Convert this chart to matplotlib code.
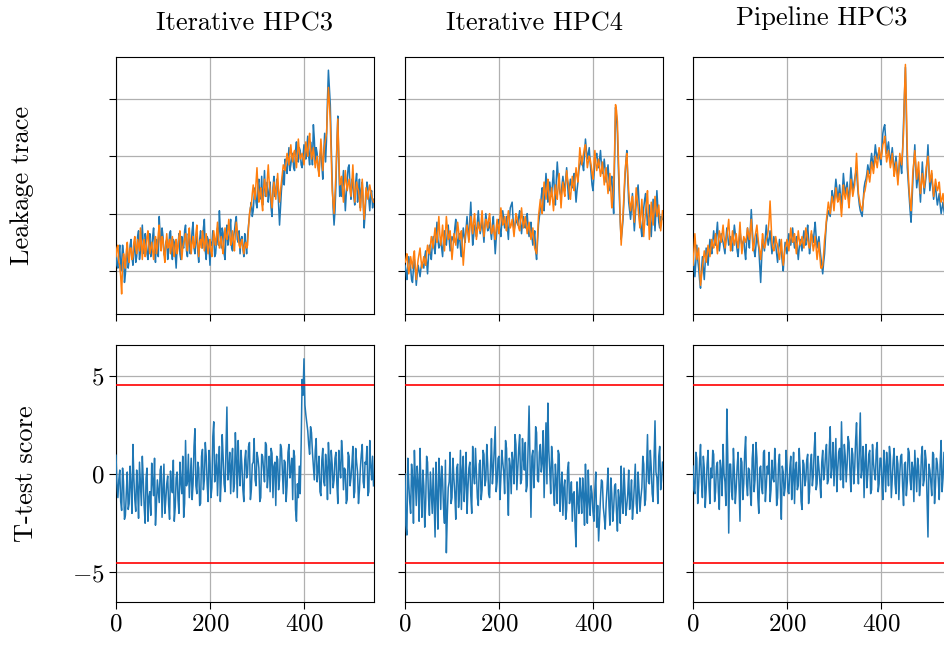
import numpy as np
import matplotlib
matplotlib.use("Agg")
import matplotlib.pyplot as plt

plt.rcParams.update({
    "font.family": "serif",
    "font.serif": ["cmr10"],
    "mathtext.fontset": "cm",
    "axes.formatter.use_mathtext": True,
    "axes.unicode_minus": True,
    "font.size": 19,
})

TITLES = ["Iterative HPC3", "Iterative HPC4", "Pipeline HPC3"]
ROW_LABELS = ["Leakage trace", "T-test score"]
STEP = 2  # sample spacing of the merged read-off values (even = x 0,4,8..., mid = x 2,6,10...)
XTICKS = [0, 200, 400]
TTEST_TICKS = [-5, 0, 5]
THRESHOLD = 4.5

# ---- leakage traces, values at x = 0, 4, 8, ... ----
TRACE_IT3_A = [0.35, 0.05, 0.45, 0.15, 0.30, -0.05, 0.40, 0.20, 0.55, 0.10,
               0.50, 0.25, 0.70, 0.35, 0.80, 0.30, 0.55, 0.20, 0.65, 0.40,
               0.75, 0.15, 0.50, 0.95, 0.40, 0.60, 0.25, 0.55, 0.35, 0.70,
               0.20, 0.50, 0.05, 0.45, 0.30, 0.60, 0.40, 0.80, 0.25, 0.55,
               0.45, 0.85, 0.30, 0.60, 0.15, 0.70, 0.40, 0.90, 0.20, 0.55,
               0.10, 0.45, 0.60, 0.30, 0.75, 1.05, 0.40, 0.65, 0.20, 0.80,
               0.55, 0.90, 0.35, 0.70, 0.95, 0.50, 0.30, 0.60, 0.25, 0.45,
               0.60, 0.95, 1.20, 1.05, 1.45, 1.10, 1.60, 1.30, 1.15, 1.75,
               1.40, 1.20, 1.55, 0.95, 1.65, 1.35, 1.50, 0.80, 1.40, 1.75,
               1.95, 1.70, 2.15, 1.85, 2.05, 1.75, 2.25, 1.90, 2.10, 1.80,
               2.20, 1.95, 2.35, 1.85, 2.10, 2.55, 1.90, 2.05, 1.70, 2.15,
               1.60, 2.40, 2.30, 3.50, 2.90, 1.60, 0.80, 1.50, 2.70, 1.30,
               1.30, 1.75, 1.05, 1.60, 1.85, 1.25, 1.50, 1.15, 1.70, 1.35,
               1.10, 1.55, 0.75, 1.30, 1.45, 1.05, 1.40, 1.25]
TRACE_IT3_A_MID = [0.10, 0.30, 0.00, 0.45, -0.20, 0.25, 0.05, 0.45, 0.25, 0.40,
                   0.15, 0.60, 0.20, 0.55, 0.45, 0.65, 0.30, 0.50, 0.25, 0.60,
                   0.35, 0.55, 0.25, 0.60, 0.75, 0.30, 0.50, 0.20, 0.65, 0.40,
                   0.55, 0.30, 0.40, 0.65, 0.20, 0.45, 0.70, 0.35, 0.65, 0.30,
                   0.70, 0.40, 0.55, 0.35, 0.55, 0.45, 0.75, 0.35, 0.60, 0.40,
                   0.50, 0.70, 0.25, 0.55, 0.45, 0.70, 0.75, 0.30, 0.60, 0.45,
                   0.75, 0.40, 0.60, 0.85, 0.55, 0.70, 0.55, 0.40, 0.65, 0.30,
                   0.80, 1.10, 0.95, 1.30, 1.20, 1.50, 1.25, 1.65, 1.40, 1.30,
                   1.55, 1.35, 1.10, 1.45, 1.30, 1.60, 1.15, 1.10, 1.60, 1.50,
                   1.80, 1.90, 1.75, 2.00, 1.80, 2.10, 1.95, 2.15, 1.85, 2.00,
                   2.05, 2.15, 2.00, 2.25, 1.85, 2.30, 2.15, 1.80, 2.00, 1.85,
                   2.05, 1.90, 3.00, 3.20, 2.20, 1.10, 1.05, 2.20, 1.90, 1.60,
                   1.50, 1.40, 1.35, 1.80, 1.45, 1.60, 1.30, 1.55, 1.20, 1.60,
                   1.40, 1.20, 1.00, 1.55, 1.25, 1.35, 1.10]
TRACE_IT3_B = [0.25, 0.45, 0.10, -0.40, 0.30, 0.05, 0.50, 0.15, 0.40, 0.25,
               0.60, 0.30, 0.45, 0.75, 0.20, 0.55, 0.35, 0.70, 0.30, 0.50,
               0.20, 0.60, 0.40, 0.80, 0.35, 0.55, 0.15, 0.65, 0.45, 0.30,
               0.60, 0.25, 0.55, 0.40, 0.70, 0.20, 0.50, 0.65, 0.35, 0.75,
               0.30, 0.60, 0.45, 0.80, 0.25, 0.55, 0.70, 0.35, 0.65, 0.30,
               0.55, 0.25, 0.70, 0.45, 0.85, 0.40, 0.60, 0.30, 0.75, 0.55,
               0.90, 0.45, 0.70, 0.35, 0.85, 0.60, 0.40, 0.55, 0.30, 0.50,
               0.45, 1.00, 1.15, 1.50, 1.25, 1.80, 1.20, 1.45, 1.05, 1.60,
               1.30, 1.85, 1.40, 1.10, 1.55, 1.25, 1.70, 1.20, 1.55, 1.85,
               1.75, 2.05, 1.85, 2.20, 1.90, 2.10, 1.80, 2.30, 1.95, 2.05,
               1.85, 2.25, 2.00, 2.40, 1.95, 2.15, 1.80, 2.00, 1.65, 2.30,
               1.75, 2.20, 2.40, 3.20, 2.60, 1.40, 1.00, 1.70, 2.65, 1.50,
               1.65, 1.20, 1.75, 1.40, 1.60, 1.30, 1.85, 1.20, 1.55, 1.40,
               1.05, 1.60, 0.90, 1.45, 1.25, 1.50, 1.30, 1.20]
TRACE_IT3_B_MID = [0.40, 0.15, -0.10, 0.10, 0.20, 0.35, 0.25, 0.40, 0.20, 0.50,
                   0.40, 0.55, 0.35, 0.50, 0.45, 0.25, 0.60, 0.45, 0.40, 0.35,
                   0.45, 0.30, 0.65, 0.50, 0.60, 0.30, 0.45, 0.40, 0.55, 0.45,
                   0.35, 0.45, 0.30, 0.60, 0.45, 0.40, 0.55, 0.45, 0.60, 0.50,
                   0.50, 0.40, 0.65, 0.45, 0.50, 0.40, 0.55, 0.50, 0.45, 0.45,
                   0.35, 0.50, 0.55, 0.65, 0.55, 0.50, 0.40, 0.55, 0.60, 0.70,
                   0.65, 0.55, 0.50, 0.65, 0.70, 0.45, 0.50, 0.40, 0.45, 0.40,
                   0.75, 1.10, 1.35, 1.35, 1.55, 1.45, 1.35, 1.20, 1.40, 1.45,
                   1.60, 1.55, 1.25, 1.35, 1.40, 1.50, 1.40, 1.40, 1.70, 1.80,
                   1.90, 1.95, 2.05, 2.00, 2.05, 1.95, 2.05, 2.10, 2.00, 1.95,
                   2.05, 2.10, 2.25, 2.15, 2.05, 1.95, 1.90, 1.80, 2.00, 2.05,
                   2.00, 2.30, 2.80, 2.95, 2.00, 1.20, 1.35, 2.20, 2.05, 1.55,
                   1.40, 1.50, 1.55, 1.50, 1.45, 1.55, 1.50, 1.40, 1.45, 1.25,
                   1.35, 1.20, 1.15, 1.35, 1.40, 1.40, 1.25]

TRACE_IT4_A = [0.10, -0.15, 0.25, 0.05, -0.20, 0.20, -0.25, 0.10, -0.10, 0.15,
               0.05, 0.35, -0.05, 0.45, 0.20, 0.60, 0.30, 0.85, 0.40, 0.55,
               0.25, 0.70, 0.45, 0.80, 0.35, 0.60, 0.50, 0.90, 0.40, 0.65,
               0.25, 0.75, 0.50, 0.95, 0.55, 1.20, 0.45, 0.80, 0.60, 1.05,
               0.65, 0.90, 0.50, 1.00, 0.70, 0.85, 0.55, 0.95, 0.30, 0.75,
               0.90, 0.60, 1.05, 0.75, 0.95, 0.55, 1.10, 1.20, 0.70, 0.90,
               0.80, 1.05, 0.65, 0.95, 0.75, 1.00, 0.60, 0.85, 0.45, 0.70,
               0.20, 0.80, 1.10, 1.45, 1.05, 1.70, 1.20, 1.55, 1.30, 1.75,
               1.15, 1.90, 1.45, 1.30, 1.65, 1.40, 1.80, 1.25, 1.60, 1.45,
               1.70, 1.20, 1.55, 1.85, 2.00, 1.75, 2.30, 1.95, 2.15, 1.70,
               1.40, 1.90, 2.05, 1.80, 2.10, 1.70, 1.95, 1.55, 1.85, 1.40,
               1.65, 1.00, 2.85, 2.40, 1.30, 0.55, 0.90, 1.60, 2.10, 1.20,
               0.90, 1.35, 0.70, 1.20, 1.50, 0.95, 0.60, 1.10, 1.35, 0.80,
               1.15, 0.60, 1.25, 0.70, 1.40, 0.85, 0.95, 0.90]
TRACE_IT4_A_MID = [0.00, 0.10, 0.15, -0.15, 0.05, 0.00, -0.05, 0.00, 0.05, 0.10,
                   0.25, 0.15, 0.25, 0.30, 0.45, 0.40, 0.60, 0.55, 0.45, 0.40,
                   0.55, 0.50, 0.65, 0.55, 0.50, 0.55, 0.75, 0.60, 0.55, 0.40,
                   0.55, 0.60, 0.75, 0.70, 0.90, 0.80, 0.60, 0.75, 0.85, 0.80,
                   0.75, 0.70, 0.80, 0.85, 0.75, 0.70, 0.80, 0.60, 0.55, 0.85,
                   0.70, 0.85, 0.90, 0.80, 0.75, 0.90, 1.15, 0.90, 0.80, 0.85,
                   0.95, 0.80, 0.85, 0.80, 0.90, 0.75, 0.70, 0.60, 0.55, 0.35,
                   0.50, 0.95, 1.30, 1.20, 1.40, 1.45, 1.35, 1.40, 1.55, 1.40,
                   1.60, 1.65, 1.35, 1.50, 1.50, 1.60, 1.50, 1.45, 1.50, 1.55,
                   1.45, 1.40, 1.75, 1.90, 1.85, 2.05, 2.10, 2.05, 1.90, 1.50,
                   1.65, 2.00, 1.90, 1.95, 1.85, 1.80, 1.75, 1.70, 1.60, 1.55,
                   1.30, 1.90, 2.70, 1.80, 0.85, 0.70, 1.25, 1.90, 1.60, 1.05,
                   1.10, 1.00, 0.95, 1.35, 1.20, 0.75, 0.90, 1.25, 1.05, 0.95,
                   0.85, 0.95, 1.00, 1.05, 1.10, 0.75, 0.95]
TRACE_IT4_B = [0.15, 0.30, -0.05, 0.25, 0.05, 0.35, -0.15, 0.20, 0.40, 0.05,
               0.25, 0.10, 0.45, 0.30, 0.60, 0.40, 0.75, 0.50, 0.95, 0.45,
               0.80, 0.35, 0.95, 0.55, 0.70, 0.20, 0.65, 0.45, 0.85, 0.55,
               0.70, 0.10, 0.60, 0.80, 0.50, 0.95, 0.65, 1.00, 0.55, 0.85,
               0.70, 1.05, 0.60, 0.90, 0.75, 1.00, 0.65, 0.80, 0.55, 0.90,
               0.65, 1.10, 0.80, 0.95, 0.70, 1.05, 0.75, 0.90, 0.60, 1.00,
               0.85, 0.70, 1.10, 0.75, 0.95, 0.65, 0.85, 0.55, 0.75, 0.40,
               0.30, 0.95, 1.25, 1.00, 1.55, 1.25, 1.60, 1.15, 1.45, 1.05,
               1.50, 1.25, 1.70, 1.10, 1.55, 1.30, 1.75, 1.50, 1.25, 1.65,
               1.40, 1.80, 1.55, 2.15, 1.85, 2.05, 2.20, 1.80, 2.00, 1.85,
               1.60, 2.10, 1.75, 1.95, 1.65, 1.90, 1.50, 1.80, 1.35, 1.70,
               1.10, 1.45, 2.90, 2.60, 1.50, 0.45, 1.00, 1.70, 2.05, 1.40,
               1.05, 1.30, 0.85, 1.45, 1.10, 0.75, 1.25, 0.60, 1.05, 1.40,
               0.55, 1.20, 0.80, 1.30, 0.95, 1.15, 0.70, 1.05]
TRACE_IT4_B_MID = [0.20, 0.10, 0.05, 0.15, 0.25, 0.05, 0.05, 0.30, 0.20, 0.15,
                   0.15, 0.30, 0.35, 0.45, 0.50, 0.60, 0.60, 0.70, 0.65, 0.60,
                   0.55, 0.65, 0.75, 0.60, 0.45, 0.40, 0.55, 0.65, 0.70, 0.60,
                   0.40, 0.35, 0.70, 0.65, 0.75, 0.80, 0.85, 0.75, 0.70, 0.75,
                   0.85, 0.80, 0.75, 0.85, 0.90, 0.80, 0.70, 0.65, 0.75, 0.75,
                   0.90, 0.95, 0.85, 0.80, 0.90, 0.90, 0.80, 0.75, 0.80, 0.95,
                   0.75, 0.90, 0.90, 0.85, 0.80, 0.75, 0.70, 0.65, 0.55, 0.35,
                   0.60, 1.10, 1.10, 1.30, 1.40, 1.45, 1.35, 1.30, 1.25, 1.30,
                   1.35, 1.50, 1.40, 1.35, 1.40, 1.55, 1.60, 1.35, 1.45, 1.50,
                   1.60, 1.65, 1.85, 2.00, 1.95, 2.15, 2.00, 1.90, 1.95, 1.70,
                   1.85, 1.90, 1.85, 1.80, 1.75, 1.70, 1.65, 1.55, 1.50, 1.40,
                   1.25, 2.10, 2.80, 2.00, 0.90, 0.75, 1.35, 1.90, 1.70, 1.20,
                   1.20, 1.05, 1.15, 1.25, 0.90, 1.00, 0.90, 0.85, 1.20, 0.95,
                   0.85, 1.00, 1.05, 1.10, 1.05, 0.90, 0.85]

TRACE_PL3_A = [0.30, -0.10, 0.45, 0.05, -0.30, 0.25, -0.15, 0.40, 0.10, 0.55,
               0.30, 0.70, 0.45, 0.85, 0.35, 0.65, 0.50, 0.30, 0.75, 0.45,
               0.60, 0.35, 0.80, 0.50, 0.25, 0.70, 0.45, 0.55, 0.20, 0.75,
               0.40, 1.07, 0.50, 0.25, 0.65, 0.40, -0.20, 0.55, 0.35, 0.80,
               0.45, 0.70, 0.30, 0.60, 0.45, 0.15, 0.55, 0.35, 0.00, 0.50,
               0.30, 0.65, 0.45, 0.75, 0.40, 0.60, 0.20, 0.55, 0.35, 0.70,
               0.45, 0.80, 0.30, 0.65, 0.50, 0.85, 0.40, 0.60, 0.25, -0.05,
               0.30, 0.85, 1.05, 0.95, 1.40, 1.15, 1.60, 1.25, 1.50, 1.10,
               1.70, 1.35, 1.55, 1.20, 1.80, 1.40, 1.60, 1.75, 1.30, 1.05,
               0.95, 1.45, 1.60, 1.85, 1.70, 2.05, 1.80, 2.20, 1.95, 2.10,
               1.85, 2.40, 2.55, 2.05, 2.25, 1.90, 2.15, 1.75, 2.00, 1.60,
               1.95, 1.70, 2.60, 3.55, 1.80, 1.30, 0.85, 1.60, 2.20, 1.45,
               1.75, 1.20, 1.90, 1.35, 1.65, 2.20, 1.40, 1.70, 1.25, 1.50,
               1.15, 1.35, 1.00, 1.20, 0.95, 1.05, 0.90, 0.80]
TRACE_PL3_A_MID = [0.10, 0.15, 0.20, -0.15, 0.00, 0.05, 0.15, 0.25, 0.35, 0.40,
                   0.50, 0.55, 0.65, 0.55, 0.50, 0.55, 0.40, 0.55, 0.60, 0.50,
                   0.45, 0.60, 0.65, 0.35, 0.50, 0.55, 0.50, 0.35, 0.50, 0.55,
                   0.75, 0.75, 0.35, 0.45, 0.50, 0.10, 0.20, 0.45, 0.60, 0.60,
                   0.55, 0.50, 0.45, 0.50, 0.30, 0.35, 0.45, 0.15, 0.25, 0.40,
                   0.50, 0.55, 0.60, 0.55, 0.50, 0.40, 0.40, 0.45, 0.55, 0.55,
                   0.65, 0.55, 0.45, 0.60, 0.70, 0.60, 0.50, 0.40, 0.10, 0.15,
                   0.60, 0.95, 1.00, 1.20, 1.30, 1.40, 1.45, 1.35, 1.30, 1.40,
                   1.50, 1.45, 1.35, 1.50, 1.60, 1.50, 1.70, 1.50, 1.15, 1.00,
                   1.20, 1.55, 1.70, 1.75, 1.90, 1.90, 2.00, 2.05, 2.05, 1.95,
                   2.15, 2.50, 2.30, 2.15, 2.05, 2.00, 1.95, 1.85, 1.80, 1.75,
                   1.85, 2.10, 3.10, 2.70, 1.55, 1.05, 1.20, 1.90, 1.80, 1.60,
                   1.45, 1.55, 1.60, 1.50, 1.90, 1.80, 1.55, 1.45, 1.40, 1.30,
                   1.25, 1.15, 1.10, 1.05, 1.00, 0.95, 0.85]
TRACE_PL3_B = [0.10, 0.65, 0.20, 0.40, -0.25, 0.05, 0.35, 0.15, 0.45, 0.25,
               0.55, 0.40, 0.65, 0.30, 0.70, 0.50, 0.80, 0.40, 0.60, 0.90,
               0.35, 0.70, 0.45, 0.65, 0.40, 0.85, 0.30, 0.60, 0.50, 0.75,
               0.55, 0.90, 0.35, 0.60, 0.80, 0.45, 0.20, 0.65, 0.40, 0.55,
               0.70, 1.22, 0.50, 0.35, 0.60, 0.45, 0.20, 0.55, 0.10, 0.40,
               0.55, 0.35, 0.75, 0.50, 0.65, 0.30, 0.70, 0.45, 0.60, 0.40,
               0.75, 0.55, 0.40, 0.70, 0.35, 0.60, 0.20, 0.50, 0.05, 0.10,
               0.55, 0.90, 1.20, 1.00, 1.30, 1.05, 1.45, 1.20, 1.35, 0.95,
               1.50, 1.25, 1.45, 1.10, 1.60, 1.30, 1.50, 2.05, 1.35, 1.15,
               1.05, 1.35, 1.50, 1.75, 1.55, 1.90, 1.70, 2.00, 1.80, 2.15,
               1.95, 2.20, 2.35, 1.90, 2.10, 1.80, 2.05, 1.65, 1.90, 1.50,
               2.05, 1.85, 2.40, 3.60, 2.10, 1.40, 1.05, 1.75, 2.10, 1.60,
               1.90, 1.35, 1.70, 1.45, 1.80, 2.00, 1.55, 1.75, 1.30, 1.60,
               1.40, 1.55, 1.20, 1.35, 1.05, 0.85, 1.00, 0.75]
TRACE_PL3_B_MID = [0.35, 0.40, 0.30, 0.05, -0.10, 0.20, 0.25, 0.30, 0.35, 0.40,
                   0.45, 0.50, 0.45, 0.50, 0.60, 0.65, 0.60, 0.50, 0.75, 0.60,
                   0.50, 0.55, 0.55, 0.50, 0.60, 0.55, 0.45, 0.55, 0.60, 0.65,
                   0.70, 0.60, 0.45, 0.70, 0.60, 0.35, 0.40, 0.50, 0.45, 0.60,
                   0.90, 0.85, 0.40, 0.45, 0.50, 0.30, 0.35, 0.30, 0.25, 0.45,
                   0.45, 0.55, 0.60, 0.55, 0.45, 0.50, 0.55, 0.50, 0.50, 0.55,
                   0.65, 0.45, 0.55, 0.50, 0.45, 0.40, 0.35, 0.25, 0.05, 0.30,
                   0.70, 1.05, 1.10, 1.15, 1.20, 1.25, 1.30, 1.25, 1.15, 1.20,
                   1.35, 1.35, 1.25, 1.35, 1.45, 1.40, 1.75, 1.70, 1.25, 1.10,
                   1.20, 1.40, 1.60, 1.65, 1.70, 1.80, 1.85, 1.90, 1.95, 2.05,
                   2.05, 2.25, 2.10, 2.00, 1.95, 1.90, 1.85, 1.75, 1.70, 1.75,
                   1.95, 2.10, 3.10, 2.90, 1.70, 1.20, 1.40, 1.90, 1.85, 1.75,
                   1.60, 1.50, 1.55, 1.60, 1.90, 1.75, 1.65, 1.50, 1.45, 1.50,
                   1.45, 1.35, 1.25, 1.20, 0.95, 0.90, 0.85]

# ---- t-test scores ----
TTEST_IT3 = [0.95, -1.20, 0.20, -1.85, -0.40, -2.10, 0.10, -1.50, -0.60, 1.50,
             -1.30, 0.20, -2.25, -0.50, 0.90, -1.70, -0.20, -2.40, -0.90, 0.55,
             -1.10, -2.60, -0.30, -1.45, 0.40, -0.80, -2.00, -0.50, -1.55, 0.15,
             -0.95, -2.40, -0.20, -1.30, 0.60, -1.00, -2.20, 1.70, -0.40, -1.20,
             0.80, -0.50, 2.30, -1.00, 0.30, -1.50, 1.25, -0.30, 0.90, -1.40,
             0.50, -0.70, 2.65, 0.10, -1.10, 1.40, -0.20, 0.85, -0.90, 3.40,
             0.20, -1.00, 1.30, -0.50, 0.70, 1.70, -0.60, 0.40, -1.40, 1.20,
             0.05, 1.60, -0.80, 0.60, -0.30, 1.10, 0.30, -1.20, 0.90, -0.40,
             1.45, 0.00, -0.90, 1.05, 0.40, -1.60, 0.75, -0.30, 1.30, -1.00,
             0.60, -0.60, 1.50, 0.20, -1.30, 0.90, -2.40, -1.20, -1.00, 4.80,
             5.85, 3.00, 2.20, 1.00, 2.10, 0.40, 1.20, -0.40, 0.90, -1.10,
             1.30, -0.60, 0.30, 1.60, -1.00, 0.50, -0.30, 1.10, -1.50, 0.40,
             1.70, -0.80, 0.20, -1.30, 0.90, -0.20, 1.40, -0.90, 0.60, -1.50,
             0.30, 1.50, -0.70, 0.50, -1.10, 1.70, -0.30, -0.60]
TTEST_IT3_MID = [-0.50, -0.30, -1.40, 0.30, -2.30, -0.90, -1.80, 0.40, -2.00, -0.20,
                 -1.90, -0.70, 0.60, -1.60, -0.30, -2.50, 0.30, -1.20, -2.10, -0.40,
                 0.80, -1.60, -0.90, 0.20, -2.20, 0.50, -1.30, -0.10, -2.30, -0.60,
                 0.70, -1.70, 0.10, -2.00, -0.40, 0.90, -1.50, -0.60, 1.00, -0.20,
                 -1.30, 1.40, -0.60, 0.60, -1.60, 0.90, -0.80, 1.60, -0.50, 1.20,
                 -1.20, 1.90, -0.40, 1.00, 0.30, -1.40, 2.00, -0.50, 1.30, -0.30,
                 1.10, 0.50, -0.90, 2.10, -1.20, 0.20, 1.20, -0.80, 0.70, -0.20,
                 1.40, -1.30, 0.50, 1.80, -0.60, 0.80, -1.40, 1.00, 0.20, 1.60,
                 -0.70, 0.90, 1.30, -1.20, 0.60, 0.90, -0.80, 1.50, 0.10, 0.70,
                 -1.40, 1.10, -0.20, 0.80, 1.20, -1.80, -0.50, 0.40, 1.50, 4.00,
                 3.50, 2.60, 1.50, 2.40, 1.10, -0.30, 1.80, 0.20, -0.90, 0.70,
                 -0.40, 1.00, -1.30, 0.60, 1.20, -0.70, 0.80, -0.50, 1.20, -0.20,
                 0.90, 0.30, -1.50, 1.10, -0.60, 0.50, -1.20, 1.30, 0.10, -0.80,
                 1.00, -0.40, 0.60, 1.40, -0.90, 0.40, 0.90]
TTEST_IT4 = [0.00, -3.10, -0.50, -2.00, -0.20, 1.20, -1.60, -0.40, 1.30, -2.20,
             -0.60, -1.50, 0.60, -2.10, -0.90, 0.30, -3.20, -1.00, 0.80, -1.80,
             -0.30, -2.50, -4.00, -0.70, 1.10, -1.20, -0.20, -2.30, 0.50, -0.90,
             -1.80, 0.90, -0.40, -2.00, 0.30, -1.10, 1.40, -0.50, 0.10, -1.60,
             0.70, -0.80, 1.00, -0.30, 0.50, -1.20, 1.80, 0.20, 2.40, -0.40,
             0.90, -0.20, 0.60, -1.00, 1.30, -2.10, 0.40, 1.10, -0.50, 1.50,
             0.20, 2.00, -0.30, 0.80, 1.60, -0.60, 3.45, -2.20, 1.20, 0.30,
             2.10, -0.40, 1.50, 0.60, -1.20, 2.60, 3.60, 0.20, 1.40, -0.80,
             0.50, -1.50, 1.00, -0.70, -2.10, -0.30, -1.80, 0.60, -1.20, -2.40,
             -0.90, -3.70, -1.30, -0.20, -2.00, -1.10, 0.50, -2.50, -1.40, -0.60,
             -1.90, -0.80, -2.70, -3.40, -1.20, -0.40, -2.20, -1.50, 0.30, -2.60,
             -1.00, -1.80, -0.50, -2.90, -1.30, 0.40, -2.00, -0.90, -1.60, 0.20,
             -1.20, -2.30, -0.60, -1.50, 0.10, -1.90, -0.70, 0.50, -1.30, 2.00,
             -0.50, 0.30, -1.40, 2.70, -0.20, 0.90, -0.80, 0.60]
TTEST_IT4_MID = [-2.60, 0.80, -1.40, 0.50, -2.50, -0.30, 0.40, -2.40, -0.80, 0.20,
                 -2.70, 0.90, -1.20, 0.10, -2.00, -1.50, 0.60, -2.80, -0.20, 0.40,
                 -1.70, 0.70, -2.10, -0.40, -1.50, 0.80, -1.00, 0.30, -1.70, 1.20,
                 0.20, -1.40, 1.10, -0.70, 0.60, -2.00, 0.00, 1.30, -1.20, 0.50,
                 -1.30, 1.20, -0.60, 1.50, -1.00, 0.40, -0.50, 1.30, -0.90, 0.80,
                 -1.30, 1.20, 0.10, 1.70, -0.60, 0.80, -1.00, 0.60, 2.00, -0.80,
                 1.30, -0.50, 1.80, 0.20, -0.90, 1.40, 0.60, 0.90, -0.70, 2.40,
                 -0.30, 1.10, 0.10, 2.20, 0.70, -0.50, 1.20, -1.00, 0.60, -1.60,
                 -0.40, 1.20, -1.90, 0.10, -0.70, -2.30, 0.20, -1.50, -0.40, -1.00,
                 -2.70, -0.40, -2.00, -1.00, -0.20, -2.60, -1.30, 0.20, -2.10, -1.00,
                 -2.40, 0.10, -1.60, -2.30, -0.30, -1.70, -2.80, -0.70, -1.60, -0.20,
                 -2.40, -0.60, -1.90, -0.80, -2.50, -1.40, 0.30, -2.10, -1.00, -1.80,
                 -0.30, -1.60, 0.50, -2.00, -0.80, -1.20, 0.90, -1.60, 0.20, -0.40,
                 1.20, -1.00, 0.80, 0.10, -1.50, 1.40, -0.30]
TTEST_PL3 = [0.40, -1.00, 0.80, -0.60, 1.50, -1.20, 0.30, -0.80, 1.20, -1.50,
             -0.20, 1.00, -0.90, 0.60, -1.80, 0.20, 1.50, -0.40, 3.30, -3.00,
             0.50, -1.30, 0.10, -0.70, 1.10, -2.40, 0.60, -0.50, 1.90, -1.10,
             0.20, -1.60, 1.50, -0.30, 0.80, -2.00, 0.40, -1.00, 1.20, -0.60,
             0.00, -1.40, 0.70, -0.40, 0.30, -1.20, 1.00, -2.30, 0.10, -0.70,
             0.40, -1.00, 0.90, -0.20, -1.50, 0.60, -0.60, 0.20, -1.80, 0.50,
             -0.30, 1.00, -0.90, 1.00, -0.10, 2.10, -0.50, 0.30, -1.20, 1.20,
             0.10, 1.50, -0.30, 2.40, 0.40, -0.60, 1.80, 0.20, 1.30, 2.65,
             -0.70, 0.90, 0.50, 1.60, -0.90, 1.00, 0.20, 2.60, -0.50, 3.10,
             0.30, -1.20, 1.50, 0.00, 1.20, -0.80, 0.60, -0.30, 1.60, -0.50,
             0.80, -1.30, 0.40, 1.10, -0.60, 0.90, -0.20, 1.30, -1.00, 0.50,
             0.00, 1.00, -1.60, 0.60, -0.40, 1.10, -0.80, 0.30, 1.20, -0.90,
             0.40, -0.50, 1.40, -0.30, 0.70, -3.20, 0.20, -1.10, 1.00, -0.60,
             0.50, -1.30, 1.70, -0.20, 0.40, -1.00, 0.80, 0.10]
TTEST_PL3_MID = [-0.80, 1.10, -1.50, 0.60, -0.40, 0.90, -1.70, 0.50, -0.60, 0.30,
                 1.20, -1.40, 0.40, -0.90, 0.70, -1.10, 0.00, -1.60, 0.90, 0.50,
                 -0.90, 1.30, -1.50, 0.40, -0.60, 0.80, -1.30, 1.10, -0.50, 0.30,
                 -1.00, 0.80, -0.90, 1.60, -1.20, 0.30, -0.70, 1.10, -1.40, 0.40,
                 1.10, -0.80, -0.20, 1.30, -1.60, 0.50, -0.90, 0.40, -1.10, 1.20,
                 -0.90, 0.30, -1.30, 1.10, 0.20, -0.80, 1.30, -1.40, 0.70, -0.60,
                 0.70, -1.50, 0.50, -0.60, 1.30, -0.80, 0.90, -0.40, 0.60, -0.30,
                 1.00, -0.50, 1.30, -0.20, 1.60, 0.60, -0.90, 1.10, -0.30, 0.50,
                 1.50, -0.40, 1.90, 0.10, 1.30, -0.50, 1.70, 0.40, 1.20, -0.20,
                 1.40, 0.60, -0.70, 1.00, -1.00, 1.50, 0.00, 1.20, -0.90, 0.80,
                 -0.40, 1.20, -0.90, 0.30, 1.40, -1.20, 0.70, -0.50, 0.90, -1.30,
                 0.90, -0.60, 0.50, -1.10, 1.30, -0.30, 0.60, -1.40, 0.20, 0.80,
                 -1.10, 0.90, -0.60, 1.20, -1.20, 0.50, -0.40, 1.10, -1.50, 0.80,
                 -0.30, 0.60, -0.90, 1.10, -0.50, 0.30, -1.20]

TRACES = [((TRACE_IT3_A, TRACE_IT3_A_MID), (TRACE_IT3_B, TRACE_IT3_B_MID)),
          ((TRACE_IT4_A, TRACE_IT4_A_MID), (TRACE_IT4_B, TRACE_IT4_B_MID)),
          ((TRACE_PL3_A, TRACE_PL3_A_MID), (TRACE_PL3_B, TRACE_PL3_B_MID))]
TTESTS = [(TTEST_IT3, TTEST_IT3_MID), (TTEST_IT4, TTEST_IT4_MID), (TTEST_PL3, TTEST_PL3_MID)]


def merged(pair):
    even, mid = pair
    v = np.empty(len(even) + len(mid))
    v[0::2] = even
    v[1::2] = mid
    return np.arange(len(v)) * STEP, v


W, H = 944, 648
fig = plt.figure(figsize=(W / 100, H / 100), dpi=100)

lefts = [116, 405, 693]
aw, ah = 258, 257
tops = [57, 345]
title_pads = [19, 19, 23]

BLUE = "#1f77b4"
ORANGE = "#ff7f0e"
LW = 1.1

for c in range(3):
    ax_t = fig.add_axes([lefts[c] / W, 1 - (tops[0] + ah) / H, aw / W, ah / H])
    ax_b = fig.add_axes([lefts[c] / W, 1 - (tops[1] + ah) / H, aw / W, ah / H])

    pa, pb = TRACES[c]
    xa, ya = merged(pa)
    xb, yb = merged(pb)
    ax_t.plot(xa, ya, color=BLUE, lw=LW, zorder=3)
    ax_t.plot(xb, yb, color=ORANGE, lw=LW, zorder=4)
    ax_t.set_xlim(0, 549)
    ax_t.set_ylim(-0.75, 3.73)
    ax_t.set_yticks([0, 1, 2, 3])
    ax_t.set_yticklabels([])
    ax_t.set_xticks(XTICKS)
    ax_t.set_xticklabels([])
    ax_t.set_title(TITLES[c], pad=title_pads[c], fontsize=19)

    xt, yt = merged(TTESTS[c])
    ax_b.plot(xt, yt, color=BLUE, lw=LW, zorder=3)
    ax_b.axhline(THRESHOLD, color="red", lw=1.2, zorder=4)
    ax_b.axhline(-THRESHOLD, color="red", lw=1.2, zorder=4)
    ax_b.set_xlim(0, 549)
    ax_b.set_ylim(-6.5, 6.55)
    ax_b.set_xticks(XTICKS)
    ax_b.set_yticks(TTEST_TICKS)
    if c > 0:
        ax_b.set_yticklabels([])

    for ax in (ax_t, ax_b):
        ax.grid(True, color="#b0b0b0", lw=0.9, zorder=0)
        ax.set_axisbelow(True)
        ax.tick_params(direction="out", length=5, width=0.8, labelsize=18)
        for s in ax.spines.values():
            s.set_linewidth(0.8)

    if c == 0:
        ax_t.set_ylabel(ROW_LABELS[0], fontsize=19)
        ax_b.set_ylabel(ROW_LABELS[1], fontsize=19)
        ax_t.yaxis.set_label_coords(-0.318, 0.5)
        ax_b.yaxis.set_label_coords(-0.302, 0.5)

fig.savefig("out.png", dpi=100)
